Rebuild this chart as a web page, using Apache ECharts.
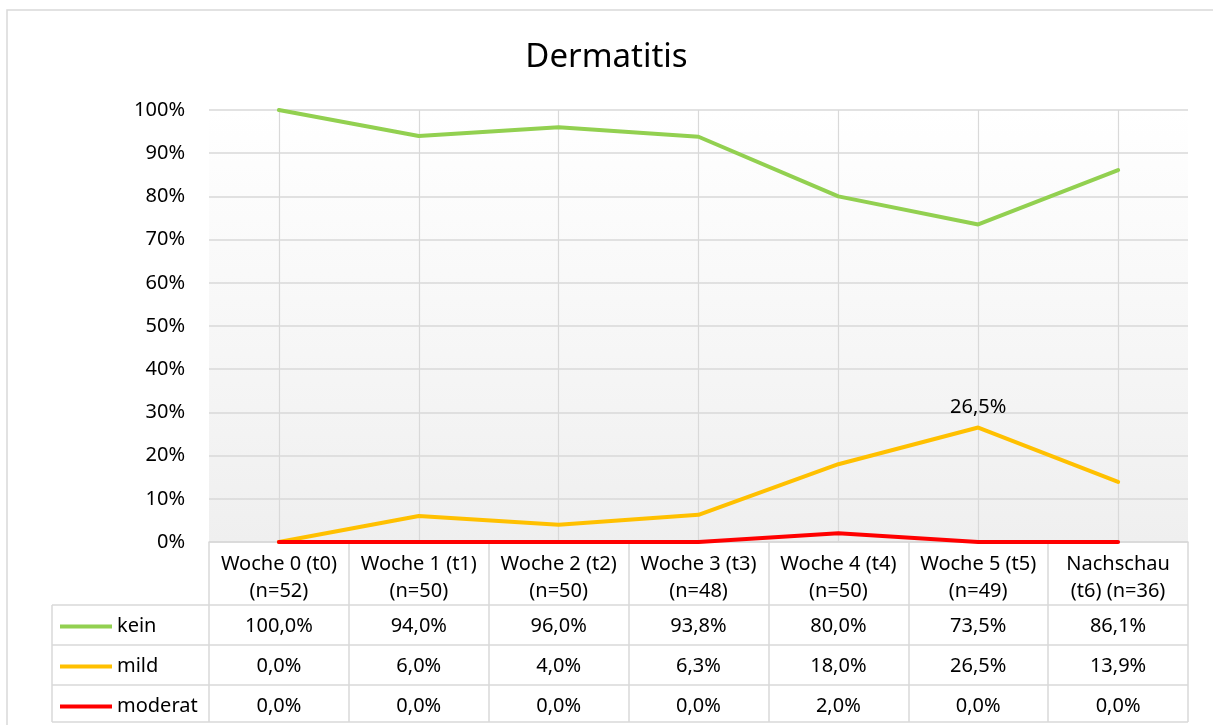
<!DOCTYPE html>
<html>
<head>
<meta charset="utf-8">
<script src="https://cdn.jsdelivr.net/npm/echarts@6/dist/echarts.min.js"></script>
<style>
html,body{margin:0;padding:0;background:#fff;}
#container{width:1213px;height:725px;}
</style>
</head>
<body>
<div id="container"></div>
<script>
// Werte aus der Datentabelle
var categories = ['Woche 0 (t0)\n(n=52)', 'Woche 1 (t1)\n(n=50)', 'Woche 2 (t2)\n(n=50)', 'Woche 3 (t3)\n(n=48)',
    'Woche 4 (t4)\n(n=50)', 'Woche 5 (t5)\n(n=49)', 'Nachschau\n(t6) (n=36)'];
var kein = [100.0, 94.0, 96.0, 93.8, 80.0, 73.5, 86.1];
var mild = [0.0, 6.0, 4.0, 6.3, 18.0, 26.5, 13.9];
var moderat = [0.0, 0.0, 0.0, 0.0, 2.0, 0.0, 0.0];
var seriesNames = ['kein', 'mild', 'moderat'];
var seriesColors = ['#92D050', '#FFC000', '#FF0000'];
var yTicks = [0, 10, 20, 30, 40, 50, 60, 70, 80, 90, 100];

var FONT = 'Noto Sans';
var FS = 20;
var fmt = function (v) { return v.toFixed(1).replace('.', ',') + '%'; };

var dom = document.getElementById('container');
var myChart = echarts.init(dom);

var gridLeft = 209, gridRight = 25, gridTop = 110, gridBottom = 183;
var rowTop = [605, 645, 685];   // Zeilen der Datentabelle
var rowH = 39;

var allRows = [kein, mild, moderat];

// x-Achse 0 = Kopfzeile der Tabelle
var xAxes = [{
    type: 'category', data: categories, boundaryGap: true, gridIndex: 0, position: 'bottom',
    axisLine: { show: true, lineStyle: { color: '#d9d9d9', width: 1.5 } },
    axisTick: { show: true, length: 180, lineStyle: { color: '#d9d9d9', width: 1.5 } },
    axisLabel: { interval: 0, margin: 9, color: '#000', fontFamily: FONT, fontSize: FS, lineHeight: 27 },
    splitLine: { show: false }
}, {
    // vertikale Gitterlinien in Kategorie-Mitte
    type: 'category', data: categories, boundaryGap: true, gridIndex: 0, position: 'bottom',
    axisLine: { show: false },
    axisTick: { show: true, inside: true, alignWithLabel: true, length: 432, lineStyle: { color: '#d9d9d9', width: 1.2 } },
    axisLabel: { show: false }
}];
// weitere x-Achsen = Zeilen der Datentabelle
allRows.forEach(function (row, i) {
    xAxes.push({
        type: 'category', data: row.map(fmt), boundaryGap: true, gridIndex: 0, position: 'bottom',
        axisLine: { show: false }, axisTick: { show: false },
        axisLabel: { interval: 0, margin: rowTop[i] - 542 + 11, color: '#000', fontFamily: FONT, fontSize: FS }
    });
});

var series = allRows.map(function (row, i) {
    return {
        name: seriesNames[i],
        type: 'line',
        xAxisIndex: 0,
        data: row.map(function (v, j) {
            if (i === 1 && j === 5) {
                return { value: v, label: { show: true, position: 'top', distance: 10, formatter: function (p) { return fmt(p.value); } } };
            }
            return v;
        }),
        symbol: 'circle',
        symbolSize: 0,
        smooth: false,
        lineStyle: { color: seriesColors[i], width: 4, cap: 'round' },
        itemStyle: { color: seriesColors[i] },
        label: { color: '#000', fontFamily: FONT, fontSize: FS },
        z: 3 + i
    };
});

// Rahmen, Tabellenlinien und Legende
var graphics = [{
    type: 'rect', shape: { x: 7, y: 10, width: 1220, height: 730 },
    style: { fill: 'none', stroke: '#d9d9d9', lineWidth: 1.5 }, silent: true
}];
var hLines = [rowTop[0], rowTop[1], rowTop[2], rowTop[2] + 37];
hLines.forEach(function (y) {
    graphics.push({ type: 'line', shape: { x1: 52, y1: y, x2: 1188, y2: y }, style: { stroke: '#d9d9d9', lineWidth: 1.5 }, silent: true });
});
graphics.push({ type: 'line', shape: { x1: 52, y1: rowTop[0], x2: 52, y2: rowTop[2] + 37 }, style: { stroke: '#d9d9d9', lineWidth: 1.5 }, silent: true });
seriesNames.forEach(function (n, i) {
    var cy = rowTop[i] + rowH / 2 + 2;
    graphics.push({ type: 'line', shape: { x1: 60, y1: cy, x2: 112, y2: cy }, style: { stroke: seriesColors[i], lineWidth: 4 }, silent: true });
    graphics.push({ type: 'text', x: 117, y: cy, style: { text: n, fill: '#000', font: FS + 'px "' + FONT + '"', textVerticalAlign: 'middle' }, silent: true });
});

option = {
    backgroundColor: '#fff',
    animation: false,
    title: {
        text: 'Dermatitis', left: 'center', top: 36,
        textStyle: { color: '#000', fontFamily: FONT, fontSize: 33, fontWeight: 'normal' }
    },
    grid: {
        left: gridLeft, right: gridRight, top: gridTop, bottom: gridBottom,
        outerBoundsMode: 'none',
        show: true, borderWidth: 0,
        backgroundColor: new echarts.graphic.LinearGradient(0, 0, 0, 1, [
            { offset: 0, color: '#ffffff' },
            { offset: 1, color: '#efefef' }
        ])
    },
    xAxis: xAxes,
    yAxis: {
        type: 'value', min: yTicks[0], max: yTicks[yTicks.length - 1], interval: 10,
        axisLine: { show: false }, axisTick: { show: false },
        axisLabel: { formatter: '{value}%', margin: 24, color: '#000', fontFamily: FONT, fontSize: FS },
        splitLine: { lineStyle: { color: '#d9d9d9', width: 1.5 } }
    },
    graphic: graphics,
    series: series
};
myChart.setOption(option);
</script>
</body>
</html>
